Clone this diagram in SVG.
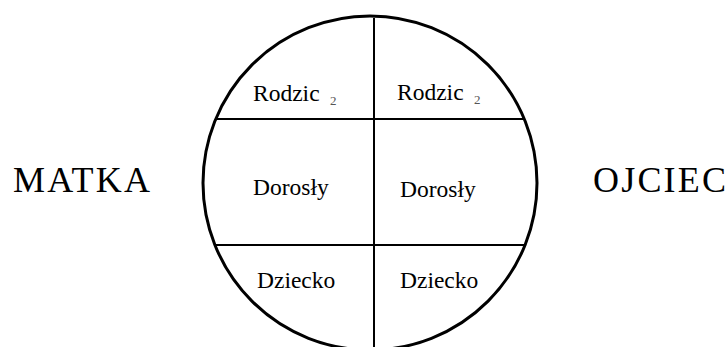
<svg xmlns="http://www.w3.org/2000/svg" width="726" height="347" viewBox="0 0 726 347">
<style>
.t{fill:#000}
.big{font-size:36px}
.cell{font-size:23.5px}
.sub{font-size:13px;fill:#555}
.ln{stroke:#000;stroke-width:2;fill:none}
</style>
<rect width="726" height="347" fill="#fff"/>
<g id="connectors">
<line class="ln" x1="374" y1="18" x2="374" y2="347"/>
<line class="ln" x1="216" y1="119" x2="525" y2="119"/>
<line class="ln" x1="215" y1="245" x2="526" y2="245"/>
</g>
<g id="circle">
<circle cx="370" cy="183" r="167" fill="none" stroke="#000" stroke-width="3"/>
</g>
<g style="font-family:'Liberation Serif',Tinos,'Noto Serif','DejaVu Serif',Georgia,serif">
<g id="matka"><text class="t big" x="13" y="192" textLength="137" lengthAdjust="spacing">MATKA</text></g>
<g id="ojciec"><text class="t big" x="593" y="192" textLength="133" lengthAdjust="spacing">OJCIEC</text></g>
<g id="rodzic-left"><text class="t cell" x="253" y="101">Rodzic</text><text class="t sub" x="330" y="105">2</text></g>
<g id="rodzic-right"><text class="t cell" x="397" y="100">Rodzic</text><text class="t sub" x="474" y="104">2</text></g>
<g id="dorosly-left"><text class="t cell" x="253" y="195">Dorosły</text></g>
<g id="dorosly-right"><text class="t cell" x="400" y="197">Dorosły</text></g>
<g id="dziecko-left"><text class="t cell" x="257" y="288">Dziecko</text></g>
<g id="dziecko-right"><text class="t cell" x="400" y="288">Dziecko</text></g>
</g>
</svg>
